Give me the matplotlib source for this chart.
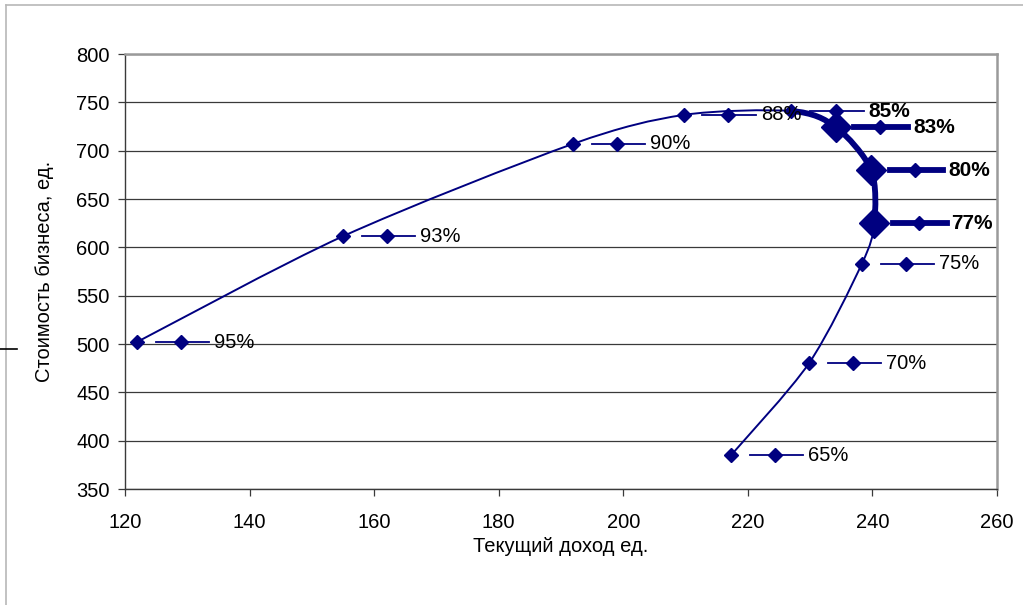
import matplotlib
matplotlib.use("Agg")
import matplotlib.pyplot as plt
import numpy as np
from matplotlib.path import Path
from matplotlib.patches import PathPatch
from matplotlib.lines import Line2D

plt.rcParams['font.family'] = ['Liberation Sans', 'DejaVu Sans']

# Share levels and the corresponding (income, business value) pairs
share_pct = [95, 93, 90, 88, 85, 83, 80, 77, 75, 70, 65]
income = [121.9, 155.0, 191.9, 209.7, 227.0, 234.1, 239.8, 240.3, 238.3, 229.8, 217.3]
biz_value = [502, 611.5, 707, 737, 741, 724.5, 680, 625, 583, 480, 385]

# Highlighted part of the curve (85% .. 77%)
hl_start, hl_end = 4, 7
big_points = [5, 6, 7]
bold_labels = [4, 5, 6, 7]

x_ticks = [120, 140, 160, 180, 200, 220, 240, 260]
y_ticks = [350, 400, 450, 500, 550, 600, 650, 700, 750, 800]

NAVY = '#000080'
TENSION = 1.0 / 7.0

fig = plt.figure(figsize=(10.23, 6.05), dpi=100)
ax = fig.add_axes([0.1222, 0.1917, 0.8524, 0.7190])
ax.set_xlim(120, 260)
ax.set_ylim(350, 800)
ax.set_xticks(x_ticks)
ax.set_yticks(y_ticks)


def smooth_path(xs, ys, first, last):
    """Cardinal-spline curve through points first..last, as cubic Bezier segments."""
    pts = np.column_stack([xs, ys]).astype(float)
    ext = np.vstack([pts[0], pts, pts[-1]])
    verts = [pts[first]]
    codes = [Path.MOVETO]
    for i in range(first + 1, last + 1):
        p0, p1, p2, p3 = ext[i - 1], ext[i], ext[i + 1], ext[i + 2]
        verts += [p1 + (p2 - p0) * TENSION, p2 - (p3 - p1) * TENSION, p2]
        codes += [Path.CURVE4] * 3
    return Path(verts, codes)


ax.add_patch(PathPatch(smooth_path(income, biz_value, 0, len(income) - 1),
                       fill=False, edgecolor=NAVY, lw=1.4, zorder=3))
ax.add_patch(PathPatch(smooth_path(income, biz_value, hl_start, hl_end),
                       fill=False, edgecolor=NAVY, lw=4.2,
                       capstyle='round', joinstyle='round', zorder=4))

# points on the curve
for i, (x, y) in enumerate(zip(income, biz_value)):
    big = i in big_points
    ax.plot([x], [y], marker='D', ms=15 if big else 7, color=NAVY,
            mec=NAVY, zorder=6, clip_on=False)

# label leaders: short line with a marker, then the share text
for i, (p, x, y) in enumerate(zip(share_pct, income, biz_value)):
    thick = i in big_points
    ax.plot([x + 3.0, x + 11.6], [y, y], color=NAVY, lw=4.2 if thick else 1.3,
            zorder=5, clip_on=False)
    ax.plot([x + 7.1], [y], marker='D', ms=7, color=NAVY, zorder=6, clip_on=False)
    bold = i in bold_labels
    ax.text(x + 12.4, y, f"{p}%", fontsize=15 if bold else 14.5,
            fontweight='bold' if bold else 'normal', va='center', ha='left',
            color='black', zorder=7, clip_on=False)

# grid and frame
ax.grid(axis='y', color='#3a3a3a', lw=0.9, zorder=1)
ax.set_axisbelow(True)
for s in ['left', 'bottom']:
    ax.spines[s].set_color('#3a3a3a')
    ax.spines[s].set_linewidth(1.0)
for s in ['top', 'right']:
    ax.spines[s].set_color('#9a9a9a')
    ax.spines[s].set_linewidth(1.8)

ax.tick_params(axis='both', direction='out', length=5, width=0.9,
               color='#3a3a3a', labelsize=14.5, pad=6)
ax.tick_params(axis='x', pad=12)

ax.set_xlabel('Текущий доход ед.', fontsize=14.5, labelpad=4)
ax.set_ylabel('Стоимость бизнеса, ед.', fontsize=14.5, labelpad=16)

# outer chart border
fig.add_artist(Line2D([0.006, 1.0], [0.992, 0.992], transform=fig.transFigure,
                      color='#b8b8b8', lw=1.2))
fig.add_artist(Line2D([0.006, 0.006], [0.0, 0.992], transform=fig.transFigure,
                      color='#b8b8b8', lw=1.2))
fig.add_artist(Line2D([0.0, 0.017], [0.423, 0.423], transform=fig.transFigure,
                      color='black', lw=1.2))

fig.savefig('out.png', dpi=100, facecolor='white')
